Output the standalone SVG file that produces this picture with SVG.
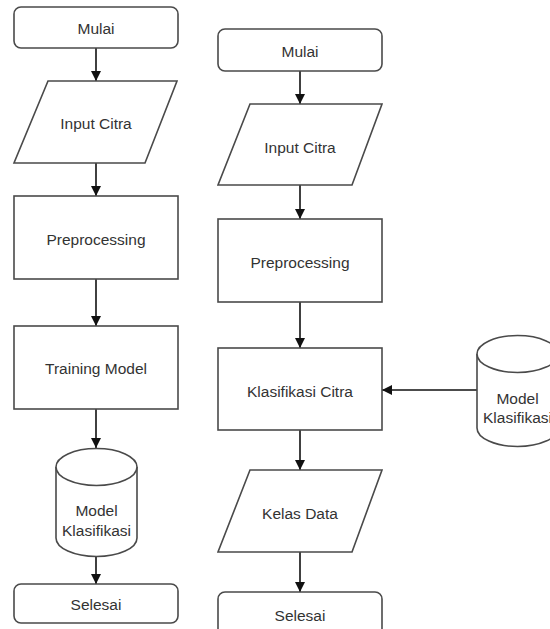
<svg xmlns="http://www.w3.org/2000/svg" width="550" height="629" viewBox="0 0 550 629">
<defs>
<style>
.s{fill:#fff;stroke:#4a4a4a;stroke-width:1.6}
.t{font-family:"Liberation Sans",Arial,sans-serif;font-size:15.5px;fill:#333;text-anchor:middle;dominant-baseline:central}
.c{stroke:#111;stroke-width:1.6;fill:none}
</style>
<marker id="ah" viewBox="0 0 10 10" refX="10" refY="5" markerWidth="10" markerHeight="10" markerUnits="userSpaceOnUse" orient="auto">
<path d="M0,0 L10,5 L0,10 Z" fill="#111"/>
</marker>
</defs>
<rect width="550" height="629" fill="#fff"/>
<g id="connectors">
<line class="c" x1="96" y1="48" x2="96" y2="81" marker-end="url(#ah)"/>
<line class="c" x1="96" y1="163" x2="96" y2="196" marker-end="url(#ah)"/>
<line class="c" x1="96" y1="279" x2="96" y2="326" marker-end="url(#ah)"/>
<line class="c" x1="96" y1="409" x2="96" y2="448" marker-end="url(#ah)"/>
<line class="c" x1="96" y1="557" x2="96" y2="584" marker-end="url(#ah)"/>
<line class="c" x1="300" y1="71" x2="300" y2="104" marker-end="url(#ah)"/>
<line class="c" x1="300" y1="185" x2="300" y2="219" marker-end="url(#ah)"/>
<line class="c" x1="300" y1="302" x2="300" y2="348" marker-end="url(#ah)"/>
<line class="c" x1="300" y1="430" x2="300" y2="470" marker-end="url(#ah)"/>
<line class="c" x1="300" y1="552" x2="300" y2="592" marker-end="url(#ah)"/>
<line class="c" x1="477" y1="390" x2="382" y2="390" marker-end="url(#ah)"/>
</g>
<g id="l-mulai">
<rect class="s" x="14" y="7" width="164" height="41" rx="7"/>
<text class="t" x="96" y="28">Mulai</text>
</g>
<g id="l-input">
<polygon class="s" points="48,81 177,81 145,163 14,163"/>
<text class="t" x="96" y="123">Input Citra</text>
</g>
<g id="l-pre">
<rect class="s" x="14" y="196" width="164" height="83"/>
<text class="t" x="96" y="239">Preprocessing</text>
</g>
<g id="l-train">
<rect class="s" x="14" y="326" width="164" height="83"/>
<text class="t" x="96" y="368">Training Model</text>
</g>
<g id="l-model">
<path class="s" d="M56,467 A40.5,18.5 0 0 1 137,467 L137,538 A40.5,18.5 0 0 1 56,538 Z"/>
<path class="s" d="M56,467 A40.5,18.5 0 0 0 137,467"/>
<text class="t" x="96.5" y="510">Model</text>
<text class="t" x="96.5" y="530">Klasifikasi</text>
</g>
<g id="l-selesai">
<rect class="s" x="14" y="584" width="164" height="39" rx="7"/>
<text class="t" x="96" y="604">Selesai</text>
</g>
<g id="r-mulai">
<rect class="s" x="218" y="29" width="164" height="42" rx="7"/>
<text class="t" x="300" y="51">Mulai</text>
</g>
<g id="r-input">
<polygon class="s" points="250,104 382,104 352,185 218,185"/>
<text class="t" x="300" y="147">Input Citra</text>
</g>
<g id="r-pre">
<rect class="s" x="218" y="219" width="164" height="83"/>
<text class="t" x="300" y="262">Preprocessing</text>
</g>
<g id="r-klas">
<rect class="s" x="218" y="348" width="164" height="82"/>
<text class="t" x="300" y="391">Klasifikasi Citra</text>
</g>
<g id="r-kelas">
<polygon class="s" points="250,470 382,470 352,552 218,552"/>
<text class="t" x="300" y="513">Kelas Data</text>
</g>
<g id="r-selesai">
<rect class="s" x="218" y="592" width="164" height="50" rx="7"/>
<text class="t" x="300" y="615">Selesai</text>
</g>
<g id="r-model">
<path class="s" d="M477,354 A40.5,18.5 0 0 1 558,354 L558,428 A40.5,18.5 0 0 1 477,428 Z"/>
<path class="s" d="M477,354 A40.5,18.5 0 0 0 558,354"/>
<text class="t" x="517.5" y="398">Model</text>
<text class="t" x="517.5" y="417">Klasifikasi</text>
</g>
</svg>
